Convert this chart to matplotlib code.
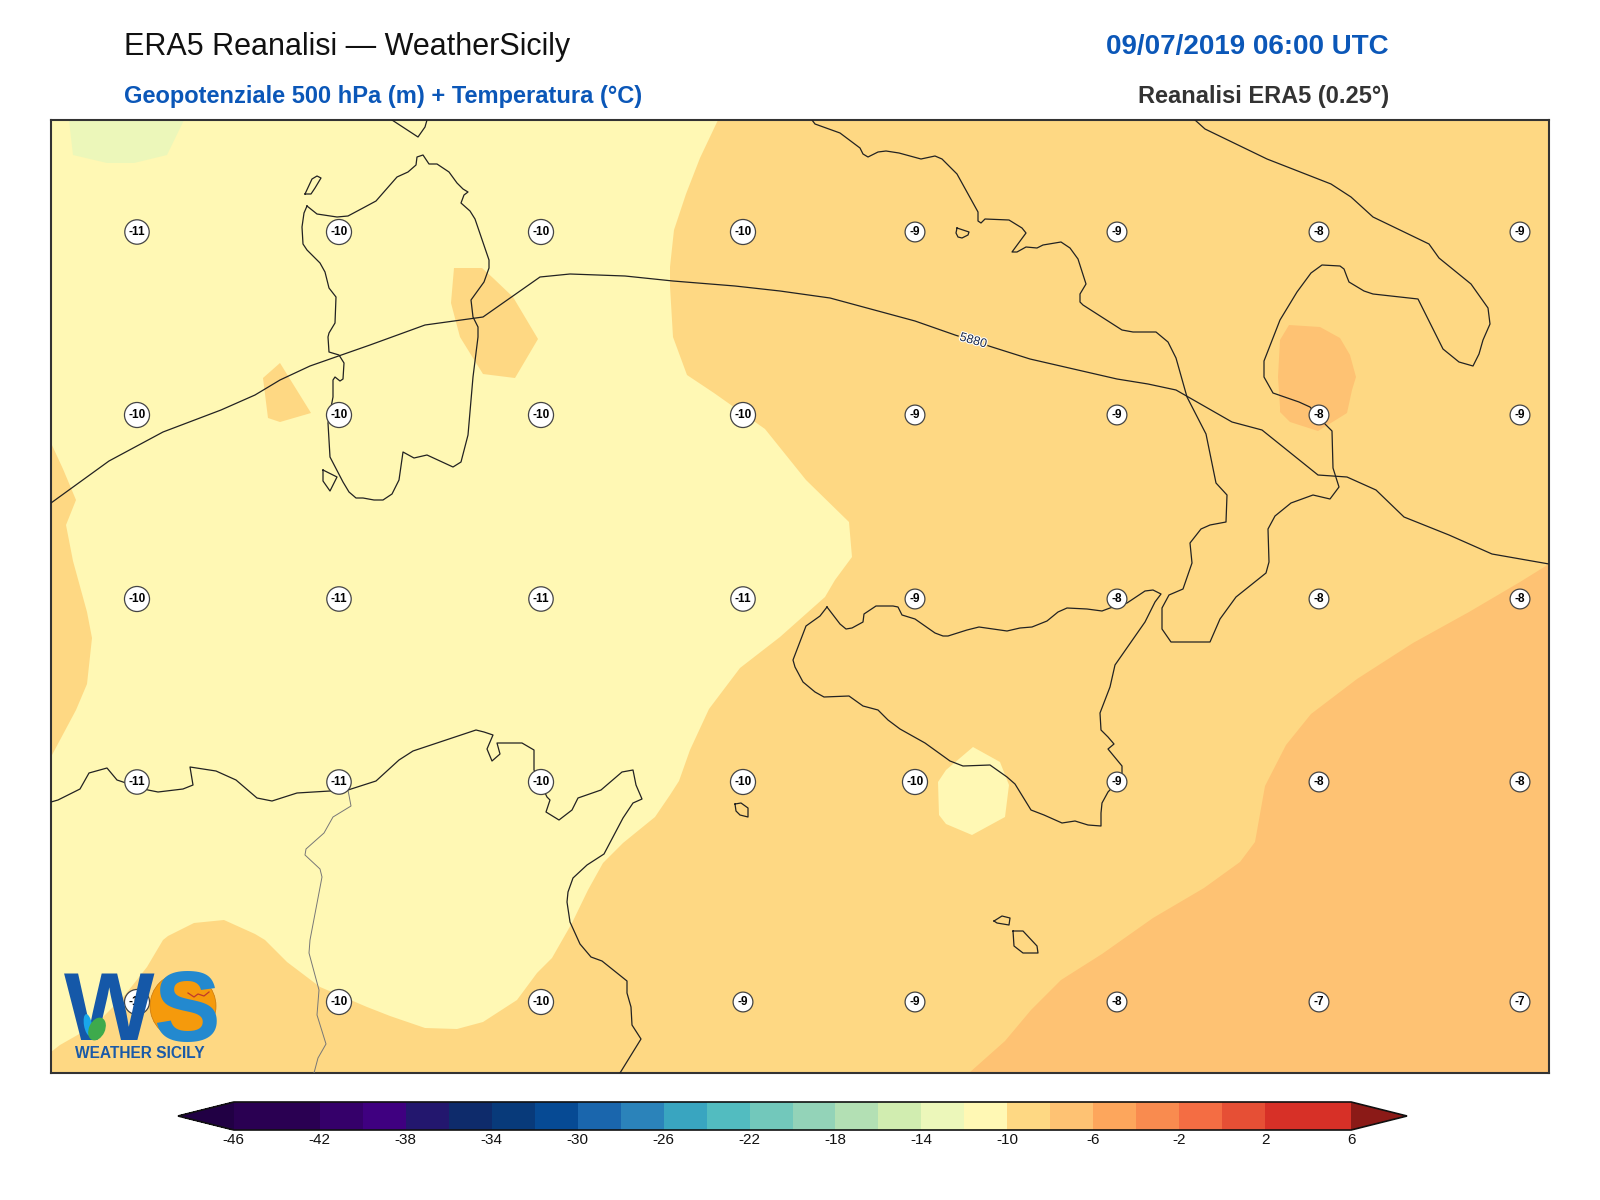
import matplotlib
matplotlib.use("Agg")
import matplotlib.pyplot as plt
from matplotlib.colors import BoundaryNorm, ListedColormap
from matplotlib.colorbar import ColorbarBase
from matplotlib.patches import Circle, Ellipse
import matplotlib.patheffects as pe
import numpy as np

plt.rcParams["font.family"] = ["Liberation Sans", "DejaVu Sans"]

W, H = 1600, 1200

# temperature levels and colours of the scale
levels = list(range(-46, 8, 2))
band_colors = [
    "#2a0052", "#2a0052", "#35006a", "#3f0080", "#23176e", "#0e2b6b", "#083a7a",
    "#064a94", "#1a66ad", "#2b83ba", "#39a5c0", "#52bcc0", "#72c8bb", "#93d3b8",
    "#b3e0b4", "#d1edb0", "#ecf7ba", "#fff8b4", "#fed883", "#fec273", "#fda65c",
    "#f98b4f", "#f46d43", "#e64f35", "#d73027", "#d73027",
]
under_color = "#210044"
over_color = "#8b1a17"

# temperature labels, rows of the map
label_cols = [137, 339, 541, 743, 915, 1117, 1319, 1520]
label_rows = [232, 415, 599, 782, 1002]
temp_labels = [
    [-11, -10, -10, -10, -9, -9, -8, -9],
    [-10, -10, -10, -10, -9, -9, -8, -9],
    [-10, -11, -11, -11, -9, -8, -8, -8],
    [-11, -11, -10, -10, -10, -9, -8, -8],
    [-10, -10, -10, -9, -9, -8, -7, -7],
]

# filled temperature areas, map units (value is the band they belong to)
area_warm = [
    (718, 120), (700, 158), (686, 194), (674, 230), (670, 267), (670, 286), (673, 337),
    (687, 375), (714, 393), (765, 429), (806, 480), (849, 522), (852, 557), (835, 580),
    (825, 597), (780, 637), (740, 668), (709, 709), (690, 750), (679, 781), (670, 795),
    (655, 817), (623, 843), (603, 863), (588, 890), (572, 923), (552, 958), (537, 973),
    (517, 1000), (483, 1022), (457, 1029), (425, 1028), (390, 1016), (367, 1007),
    (320, 987), (287, 962), (265, 940), (255, 934), (224, 920), (194, 923), (168, 936),
    (163, 940), (147, 967), (125, 995), (95, 1025), (60, 1045), (51, 1052), (51, 1073),
    (1549, 1073), (1549, 120),
]
area_west = [
    (51, 443), (63, 469), (76, 500), (66, 525), (73, 561), (87, 612), (92, 638), (87, 684),
    (76, 710), (52, 755), (51, 755),
]
area_sardinia_east = [
    (454, 268), (482, 268), (493, 278), (513, 297), (538, 339), (515, 378), (483, 374),
    (473, 358), (460, 337), (451, 303),
]
area_sardinia_west = [(263, 378), (280, 363), (311, 413), (280, 422), (268, 418)]
area_cold = [(69, 120), (73, 155), (107, 163), (134, 163), (167, 155), (184, 120)]
area_sicily_channel = [
    (973, 747), (1000, 762), (1009, 785), (1005, 817), (972, 835), (946, 824), (939, 815),
    (938, 782), (946, 770),
]
area_calabria = [
    (1289, 325), (1320, 327), (1340, 338), (1350, 355), (1356, 377), (1352, 390), (1347, 413),
    (1318, 431), (1290, 422), (1280, 412), (1280, 407), (1278, 377), (1280, 340),
]
area_southeast = [
    (1549, 564), (1520, 582), (1469, 612), (1413, 643), (1357, 679), (1311, 714), (1286, 745),
    (1265, 786), (1255, 842), (1240, 862), (1204, 888), (1153, 918), (1102, 954), (1061, 980),
    (1031, 1010), (1005, 1041), (969, 1073), (1549, 1073),
]

# coast lines
sardinia = [
    (307, 206), (317, 214), (337, 217), (348, 216), (363, 208), (376, 201), (397, 177),
    (408, 172), (416, 165), (417, 157), (423, 155), (429, 164), (437, 164), (449, 172),
    (457, 183), (463, 189), (468, 192), (464, 195), (461, 203), (470, 211), (475, 219),
    (489, 260), (489, 268), (484, 282), (471, 300), (473, 317), (478, 327), (478, 337),
    (473, 377), (468, 435), (461, 462), (453, 467), (427, 455), (414, 458), (403, 452),
    (399, 480), (392, 494), (383, 500), (374, 500), (363, 498), (356, 498), (349, 492),
    (343, 482), (330, 457), (328, 423), (333, 397), (333, 380), (335, 377), (340, 381),
    (343, 379), (344, 363), (339, 355), (329, 352), (328, 337), (329, 333), (335, 323),
    (336, 297), (329, 288), (325, 272), (320, 263), (307, 250), (303, 244), (302, 227),
    (304, 213), (307, 206),
]
asinara = [(305, 194), (312, 179), (317, 176), (321, 178), (315, 188), (311, 194), (305, 194)]
antioco = [(323, 470), (337, 477), (330, 491), (323, 481), (323, 470)]
corsica = [(392, 120), (418, 137), (425, 127), (427, 120)]
italy = [
    (812, 120), (815, 124), (840, 133), (860, 148), (863, 154), (868, 157), (878, 152),
    (886, 151), (899, 153), (921, 159), (935, 156), (942, 159), (957, 174), (978, 212),
    (978, 221), (981, 223), (985, 219), (1009, 220), (1022, 228), (1026, 233), (1012, 252),
    (1017, 252), (1026, 247), (1037, 248), (1043, 245), (1061, 242), (1070, 248), (1078, 259),
    (1086, 284), (1080, 294), (1080, 302), (1083, 305), (1122, 330), (1133, 332), (1156, 332),
    (1168, 342), (1176, 358), (1187, 397), (1206, 434), (1216, 483), (1227, 495), (1226, 522),
    (1210, 525), (1201, 529), (1190, 543), (1192, 563), (1183, 589), (1169, 595), (1162, 608),
    (1162, 629), (1171, 642), (1210, 642), (1220, 619), (1236, 597), (1266, 573), (1269, 562),
    (1268, 529), (1275, 516), (1291, 503), (1313, 495), (1330, 499), (1339, 487), (1333, 468),
    (1332, 431), (1323, 422), (1310, 407), (1299, 402), (1273, 393), (1264, 377), (1264, 361),
    (1280, 320), (1297, 292), (1311, 273), (1322, 265), (1340, 266), (1344, 269), (1347, 277),
    (1349, 282), (1364, 291), (1373, 294), (1418, 299), (1443, 349), (1459, 362), (1473, 366),
    (1479, 354), (1483, 340), (1490, 324), (1488, 308), (1471, 284), (1439, 258), (1429, 244),
    (1373, 217), (1351, 197), (1331, 184), (1267, 159), (1205, 129), (1195, 120),
]
capri = [(957, 228), (969, 232), (968, 235), (962, 238), (958, 237), (956, 233), (957, 228)]
sicily = [
    (827, 607), (840, 624), (846, 629), (852, 628), (863, 622), (864, 614), (876, 606),
    (893, 606), (898, 607), (902, 615), (915, 619), (935, 633), (943, 636), (948, 636),
    (967, 630), (979, 627), (1007, 631), (1020, 628), (1032, 627), (1047, 621), (1058, 612),
    (1067, 608), (1087, 609), (1102, 611), (1110, 608), (1127, 603), (1145, 591), (1153, 590),
    (1161, 594), (1155, 602), (1145, 622), (1115, 665), (1110, 687), (1100, 713), (1101, 730),
    (1108, 737), (1114, 744), (1108, 749), (1122, 766), (1122, 777), (1108, 792), (1102, 803),
    (1101, 813), (1101, 826), (1088, 825), (1075, 821), (1062, 823), (1044, 815), (1031, 810),
    (1015, 784), (1007, 777), (990, 765), (963, 766), (950, 761), (925, 743), (900, 729),
    (888, 720), (878, 710), (863, 706), (849, 696), (824, 697), (815, 692), (803, 682),
    (795, 667), (793, 660), (806, 626), (820, 616), (827, 607),
]
north_africa = [
    (51, 802), (58, 800), (80, 789), (89, 773), (107, 768), (117, 780), (126, 783), (148, 790),
    (158, 792), (183, 789), (193, 785), (190, 767), (216, 771), (236, 780), (257, 798),
    (272, 801), (297, 793), (330, 791), (348, 790), (376, 781), (399, 760), (413, 751),
    (476, 730), (484, 732), (493, 735), (487, 749), (492, 761), (500, 754), (497, 743),
    (522, 743), (534, 750), (534, 770), (547, 797), (550, 800), (546, 812), (559, 820),
    (572, 810), (578, 798), (601, 790), (622, 772), (633, 770), (636, 785), (642, 799),
    (633, 803), (623, 818), (604, 854), (587, 865), (573, 878), (568, 892), (567, 902),
    (570, 922), (580, 944), (591, 957), (602, 961), (627, 981), (627, 993), (631, 1007),
    (632, 1025), (641, 1039), (620, 1073),
]
malta = [(735, 804), (741, 803), (748, 808), (748, 817), (740, 815), (736, 811), (735, 804)]
linosa = [(994, 921), (1002, 916), (1010, 918), (1009, 925), (997, 923), (994, 921)]
lampedusa = [(1013, 931), (1023, 931), (1037, 946), (1038, 953), (1023, 953), (1014, 946), (1013, 931)]
coasts = [sardinia, asinara, antioco, corsica, italy, capri, sicily, north_africa, malta, linosa, lampedusa]

border = [
    (348, 790), (351, 806), (333, 817), (324, 833), (306, 849), (305, 855), (320, 869),
    (322, 877), (310, 940), (309, 953), (319, 990), (317, 1015), (326, 1044), (318, 1058),
    (314, 1073),
]

# 5880 m isoline
isoline = [
    (51, 503), (109, 461), (163, 432), (221, 410), (255, 395), (280, 380), (310, 366), (370, 345),
    (425, 325), (483, 317), (540, 277), (570, 274), (625, 276), (673, 281), (735, 286), (780, 291),
    (830, 298), (915, 321), (955, 335), (992, 347), (1030, 359), (1117, 379), (1148, 384),
    (1176, 390), (1232, 422), (1262, 430), (1318, 475), (1347, 477), (1376, 490), (1404, 517),
    (1449, 535), (1492, 554), (1549, 564),
]
isoline_label = "5880"
isoline_label_pos = (973, 341)

cmap = ListedColormap(band_colors)
cmap.set_under(under_color)
cmap.set_over(over_color)
norm = BoundaryNorm(levels, cmap.N)


def band(value):
    return cmap(norm(value))


def xy(points):
    arr = np.array(points)
    return arr[:, 0], arr[:, 1]


fig = plt.figure(figsize=(W / 100, H / 100), dpi=100, facecolor="white")
ax = fig.add_axes([51 / W, 1 - 1073 / H, 1498 / W, 953 / H])
ax.set_xlim(51, 1549)
ax.set_ylim(1073, 120)
ax.set_xticks([])
ax.set_yticks([])
ax.set_facecolor(band(-11))
for spine in ax.spines.values():
    spine.set_linewidth(1.5)
    spine.set_color("#333333")

# temperature bands
ax.fill(*xy(area_cold), color=band(-13), lw=0, zorder=1)
for area in [area_warm, area_west, area_sardinia_east, area_sardinia_west]:
    ax.fill(*xy(area), color=band(-9), lw=0, zorder=1)
ax.fill(*xy(area_sicily_channel), color=band(-11), lw=0, zorder=2)
for area in [area_calabria, area_southeast]:
    ax.fill(*xy(area), color=band(-7), lw=0, zorder=2)

# coasts, border, isoline
for coast in coasts:
    ax.plot(*xy(coast), color="#222222", lw=0.9, zorder=3)
ax.plot(*xy(border), color="#777777", lw=0.7, zorder=3)
ax.plot(*xy(isoline), color="#222222", lw=0.9, zorder=4)
ax.text(*isoline_label_pos, isoline_label, fontsize=9, color="#1c2a4a", rotation=-16,
        ha="center", va="center", zorder=5,
        bbox=dict(boxstyle="square,pad=0.1", fc=band(-9), ec="none"),
        path_effects=[pe.withStroke(linewidth=1.5, foreground="white")])

# temperature labels
for row, y in zip(temp_labels, label_rows):
    for value, x in zip(row, label_cols):
        ax.text(x, y, str(value), fontsize=8.5, fontweight="bold", color="black",
                ha="center", va="center", zorder=6,
                bbox=dict(boxstyle="circle,pad=0.33", fc="white", ec="#444444", lw=0.9))

# logo
ax.add_patch(Circle((183, 1006), 33, fc="#f59a0c", ec="#c9770a", lw=0.5, zorder=7))
ax.text(64, 1040, "W", fontsize=69, fontweight="bold", color="#1558a8",
        ha="left", va="baseline", zorder=8)
ax.text(153, 1041, "S", fontsize=72, fontweight="bold", color="#2389cf",
        ha="left", va="baseline", zorder=9)
ax.add_patch(Ellipse((88, 1025), 8, 22, angle=-10, fc="#19a7ea", ec="none", zorder=9))
ax.add_patch(Ellipse((97, 1029), 16, 24, angle=25, fc="#3eaa4c", ec="none", zorder=9))
ax.plot([188, 194, 198, 204, 209], [993, 997, 994, 996, 992], color="#c0392b", lw=0.9, zorder=10)
ax.text(140, 1054, "WEATHER SICILY", fontsize=11.2, fontweight="bold", color="#1a5aa8",
        ha="center", va="center", zorder=8)

# titles
fig.text(124 / W, 1 - 55 / H, "ERA5 Reanalisi \u2014 WeatherSicily", fontsize=22, color="#111111",
         ha="left", va="baseline")
fig.text(124 / W, 1 - 103 / H, "Geopotenziale 500 hPa (m) + Temperatura (\u00b0C)", fontsize=17,
         fontweight="bold", color="#0b57b8", ha="left", va="baseline")
fig.text(1389 / W, 1 - 54 / H, "09/07/2019 06:00 UTC", fontsize=20, fontweight="bold",
         color="#0b57b8", ha="right", va="baseline")
fig.text(1389 / W, 1 - 103 / H, "Reanalisi ERA5 (0.25\u00b0)", fontsize=17, fontweight="bold",
         color="#333333", ha="right", va="baseline")

# colour bar, the axes takes in the two end triangles
cax = fig.add_axes([178 / W, 1 - 1130 / H, 1229 / W, 28 / H])
cb = ColorbarBase(cax, cmap=cmap, norm=norm, orientation="horizontal", extend="both",
                  extendfrac=0.05, ticks=levels[::2], spacing="uniform")
cb.minorticks_off()
cb.outline.set_linewidth(1.2)
cb.outline.set_edgecolor("#111111")
cb.ax.tick_params(length=0, labelsize=11, pad=2, colors="#111111")
cb.set_ticklabels([str(v) for v in levels[::2]])

fig.savefig("out.png", dpi=100)
plt.close(fig)
